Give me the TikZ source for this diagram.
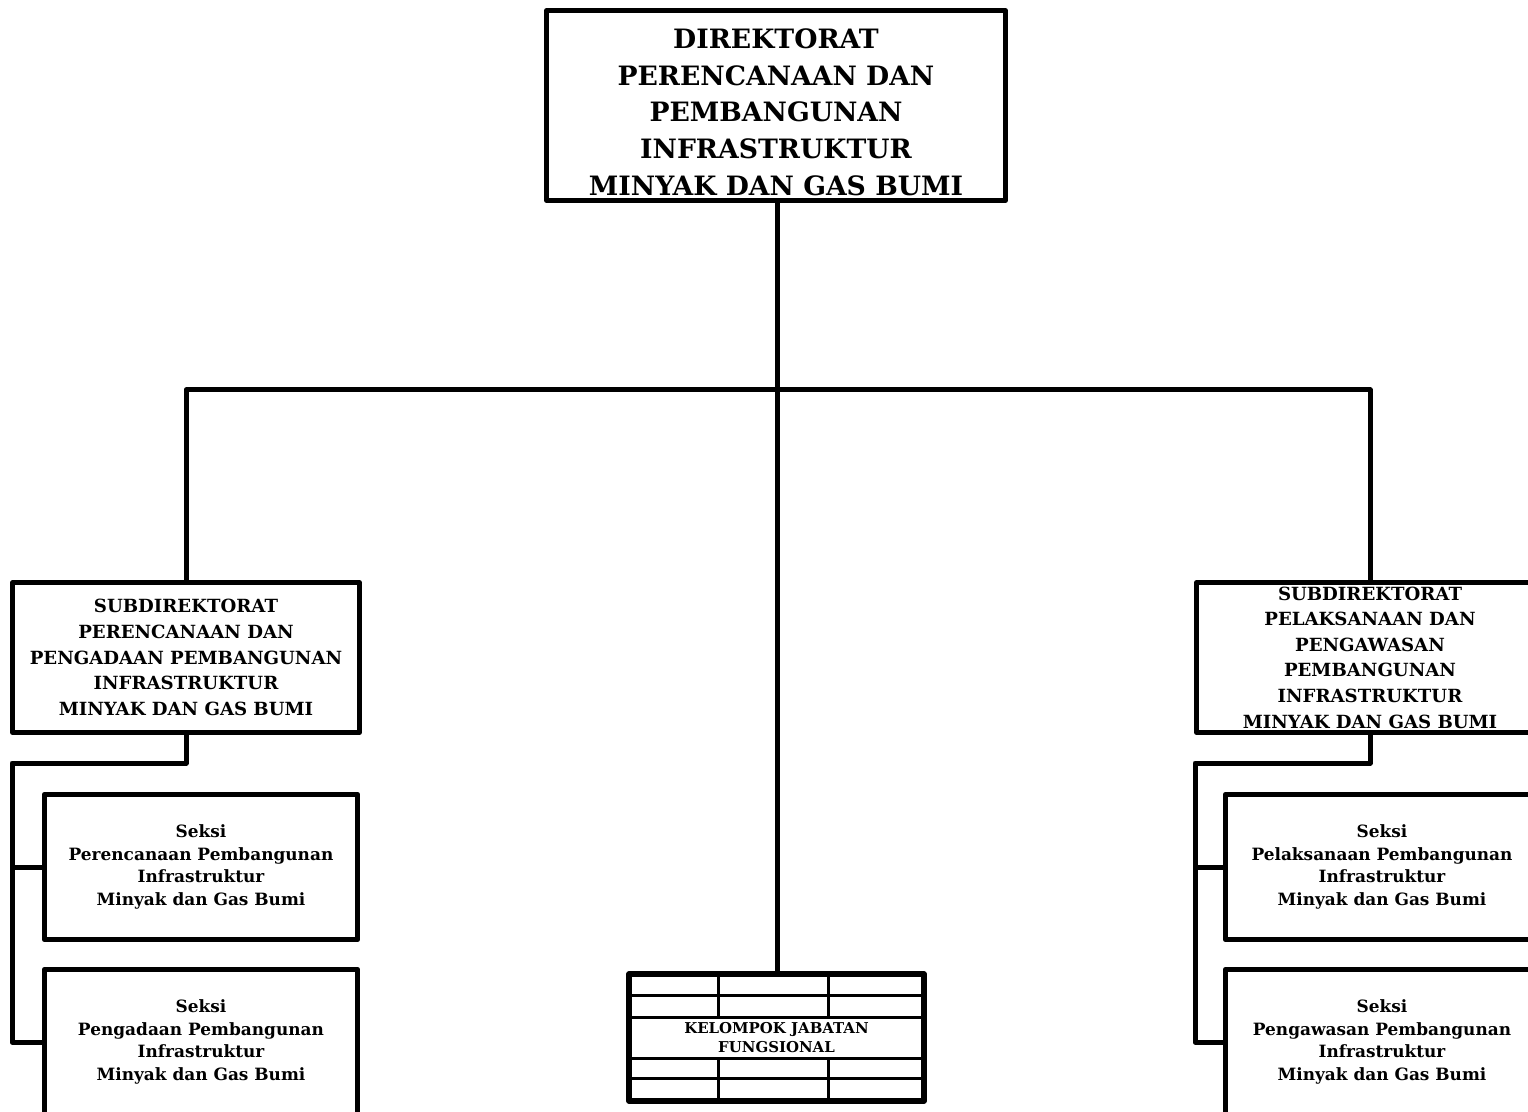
\documentclass[tikz,border=0pt]{standalone}
\usepackage{fontspec}
\setmainfont{DejaVu Serif}
\usetikzlibrary{calc}
\begin{document}
\begin{tikzpicture}[x=0.75pt,y=-0.75pt,
  box/.style={draw=black,line width=3.75pt,line join=round,rectangle,align=center,inner sep=0pt,font=\bfseries},
  topbox/.style={box,minimum width=344pt,minimum height=142.5pt,font=\bfseries\fontsize{20}{27.4}\selectfont},
  subbox/.style={box,minimum width=260pt,minimum height=112.5pt,font=\bfseries\fontsize{13.6}{19.2}\selectfont},
  seksibox/.style={box,minimum width=235pt,minimum height=109pt,font=\bfseries\fontsize{12.7}{16.8}\selectfont},
  kjfbox/.style={box,line width=4.5pt,minimum width=221pt,minimum height=95pt,font=\bfseries\fontsize{11.2}{14}\selectfont},
  conn/.style={draw=black,line width=3.75pt,line join=round},
  grid/.style={draw=black,line width=2.25pt}]
\clip (0,0) rectangle (1528,1112);
\fill[white] (0,0) rectangle (1528,1112);
% nodes
\node[topbox] (top) at (776,105.5) {\rule{0pt}{25pt}DIREKTORAT\\PERENCANAAN DAN\\PEMBANGUNAN\\INFRASTRUKTUR\\MINYAK DAN GAS BUMI};
\node[subbox] (sl) at (186,657.5) {SUBDIREKTORAT\\PERENCANAAN DAN\\PENGADAAN PEMBANGUNAN\\INFRASTRUKTUR\\MINYAK DAN GAS BUMI};
\node[subbox] (sr) at (1370,657.5) {SUBDIREKTORAT\\PELAKSANAAN DAN\\PENGAWASAN\\PEMBANGUNAN\\INFRASTRUKTUR\\MINYAK DAN GAS BUMI};
\node[seksibox] (s1) at (201,867) {Seksi\\Perencanaan Pembangunan\\Infrastruktur\\Minyak dan Gas Bumi};
\node[seksibox] (s2) at (201,1042) {Seksi\\Pengadaan Pembangunan\\Infrastruktur\\Minyak dan Gas Bumi};
\node[seksibox] (s3) at (1382,867) {Seksi\\Pelaksanaan Pembangunan\\Infrastruktur\\Minyak dan Gas Bumi};
\node[seksibox] (s4) at (1382,1042) {Seksi\\Pengawasan Pembangunan\\Infrastruktur\\Minyak dan Gas Bumi};
\node[kjfbox] (kjf) at (776.5,1037.5) {KELOMPOK JABATAN\\FUNGSIONAL};
% grid of the functional group box
\draw[grid] (kjf.west |- 0,995) -- (kjf.east |- 0,995);
\draw[grid] (kjf.west |- 0,1017) -- (kjf.east |- 0,1017);
\draw[grid] (kjf.west |- 0,1058) -- (kjf.east |- 0,1058);
\draw[grid] (kjf.west |- 0,1078) -- (kjf.east |- 0,1078);
\draw[grid] (718,0 |- kjf.north) -- (718,1017);
\draw[grid] (828,0 |- kjf.north) -- (828,1017);
\draw[grid] (718,1058) -- (718,0 |- kjf.south);
\draw[grid] (828,1058) -- (828,0 |- kjf.south);
% connectors
\coordinate (hub) at (777,390);
\coordinate (lb) at (12,763);
\coordinate (rb) at (1195,763);
\draw[conn] (top.south -| hub) -- (hub |- kjf.north);
\draw[conn] (sl.north) |- (hub) -| (sr.north);
\draw[conn] (sl.south) |- (lb) |- (s2.west);
\draw[conn] (lb |- s1.west) -- (s1.west);
\draw[conn] (sr.south) |- (rb) |- (s4.west);
\draw[conn] (rb |- s3.west) -- (s3.west);
\end{tikzpicture}
\end{document}
